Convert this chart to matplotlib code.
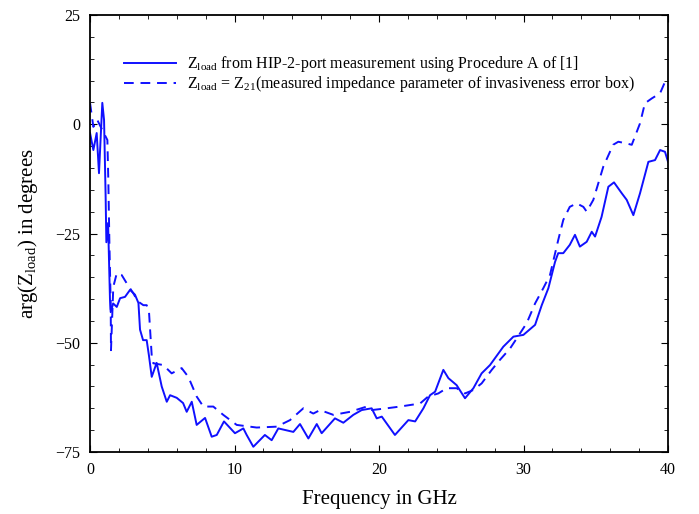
import numpy as np
import matplotlib
matplotlib.use('Agg')
import matplotlib.pyplot as plt
from matplotlib.ticker import MultipleLocator

plt.rcParams['font.family'] = ['Liberation Serif', 'DejaVu Serif']
plt.rcParams['mathtext.fontset'] = 'custom'
plt.rcParams['mathtext.rm'] = 'Liberation Serif'

# solid: Z_load from HIP-2-port measurement
solid_f = [0, 0.23, 0.46, 0.62, 0.85, 0.97, 1.08, 1.13, 1.25, 1.38, 1.43, 1.6, 1.85, 2.08, 2.42,
           2.77, 3.11, 3.35, 3.46, 3.67, 3.92, 4.08, 4.27, 4.61, 4.96, 5.31, 5.54, 6.0, 6.44,
           6.69, 7.04, 7.38, 7.96, 8.42, 8.77, 9.27, 10.03, 10.61, 10.84, 11.3, 12.1, 12.57,
           13.03, 14.07, 14.53, 15.11, 15.69, 16.03, 16.95, 17.53, 18.22, 18.8, 19.49, 19.84,
           20.19, 21.1, 22.03, 22.5, 23.07, 23.53, 23.88, 24.45, 24.8, 25.37, 25.95, 26.53,
           27.1, 27.68, 28.6, 29.3, 29.99, 30.8, 31.26, 31.72, 32.18, 32.4, 32.75, 33.2, 33.56,
           33.9, 34.37, 34.72, 34.95, 35.4, 35.87, 36.26, 36.8, 37.14, 37.6, 38.06, 38.64,
           39.1, 39.45, 39.79, 40]
solid_arg = [-2, -5.9, -2, -11.2, 4.9, 1, -16.6, -27, -22.6, -40, -43, -41, -41.8, -39.8, -39.5,
             -37.9, -39, -40.9, -47, -49.4, -49.4, -53, -57.8, -54.6, -60, -63.5, -62, -62.6,
             -63.8, -65.8, -63.5, -68.8, -67.2, -71.5, -71.1, -68, -70.7, -69.6, -71.1, -73.8,
             -71.1, -72.3, -69.6, -70.4, -68.6, -71.9, -68.6, -70.7, -67.3, -68.3, -66.5, -65.4,
             -65, -67.3, -66.9, -71.1, -67.7, -68, -65, -62, -61.2, -56.2, -58.1, -59.7, -62.7,
             -60.4, -57, -55.1, -50.9, -48.6, -48.2, -45.9, -41.4, -37.5, -31.5, -29.5, -29.5,
             -27.6, -25.3, -28, -26.9, -24.6, -25.7, -21.2, -14.3, -13.3, -15.8, -17.3, -20.8,
             -15.8, -8.6, -8.2, -5.9, -6.3, -8.6]

# dashed: Z_load = Z21
dash_f = [0, 0.23, 0.5, 0.8, 1.2, 1.27, 1.34, 1.43, 1.45, 1.61, 1.85, 2.19, 2.54, 3.0, 3.3,
          3.69, 3.92, 4.08, 4.27, 4.38, 5.07, 5.65, 6.34, 6.8, 7.38, 7.84, 8.53, 9.22, 10.15,
          11.53, 12.92, 13.84, 14.76, 15.45, 15.92, 16.84, 18.0, 19.15, 19.5, 20.53, 21.45,
          22.84, 23.4, 24.1, 24.68, 25.37, 25.95, 26.53, 27.1, 27.8, 28.37, 29.07, 29.53,
          30.22, 30.8, 31.37, 31.83, 32.4, 32.75, 33.2, 33.68, 34.14, 34.37, 34.83, 35.52,
          36.2, 36.56, 37.14, 37.49, 38.06, 38.4, 38.87, 39.45, 39.79, 40]
dash_arg = [4.9, -0.6, 1, -1, -3.6, -13.5, -27.2, -41, -51.7, -37.2, -34.1, -34.5, -36.4, -38.7,
            -40.5, -41.4, -41.4, -42.9, -53, -54.7, -55.1, -57, -55.8, -57.8, -62.3, -64.6,
            -64.6, -66.5, -68.8, -69.4, -69.2, -67.7, -65, -66.2, -65.4, -66.5, -65.8, -64.6,
            -65.4, -65, -64.6, -63.9, -62.3, -61.6, -60.4, -60.4, -61.6, -60.8, -59.3, -56.2,
            -53.9, -51.3, -49, -45.5, -41, -37.5, -34.5, -26.5, -21.9, -18.9, -18.1, -18.9,
            -20, -17.3, -9.7, -4.7, -4, -4.4, -4.7, 0.2, 4.8, 5.9, 7.1, 9.7, 10]

label_solid = r'$\mathregular{Z_{load}}$ from HIP-2-port measurement using Procedure A of [1]'
label_dash = (r'$\mathregular{Z_{load}}$ = $\mathregular{Z_{21}}$(measured impedance parameter '
              'of invasiveness error box)')

fig = plt.figure(figsize=(6.99, 5.14), dpi=100)
ax = fig.add_axes([0.1288, 0.1206, 0.8269, 0.8502])

ax.plot(solid_f, solid_arg, color='#1010ff', lw=1.4, label=label_solid)
ax.plot(dash_f, dash_arg, color='#1010ff', lw=1.4, linestyle=(0, (5, 3.5)), label=label_dash)

ax.set_xlim(0, 40)
ax.set_ylim(-75, 25)
ax.xaxis.set_major_locator(MultipleLocator(10))
ax.xaxis.set_minor_locator(MultipleLocator(2))
ax.yaxis.set_major_locator(MultipleLocator(25))
ax.yaxis.set_minor_locator(MultipleLocator(5))
ax.tick_params(which='both', direction='in', top=True, right=True, labelsize=11.5, pad=7)
ax.tick_params(which='major', length=5)
ax.tick_params(which='minor', length=3)
for s in ax.spines.values():
    s.set_linewidth(1.3)

ax.set_xlabel('Frequency in GHz', fontsize=15, labelpad=9)
ax.set_ylabel(r'arg($\mathregular{Z_{load}}$) in degrees', fontsize=15, labelpad=11)

ax.legend(loc='upper left', bbox_to_anchor=(0.0588, 0.91), frameon=False, fontsize=11.5,
          handlelength=3.25, labelspacing=0.0, handletextpad=0.7, borderpad=0,
          borderaxespad=0)

fig.savefig('out.png', dpi=100)
